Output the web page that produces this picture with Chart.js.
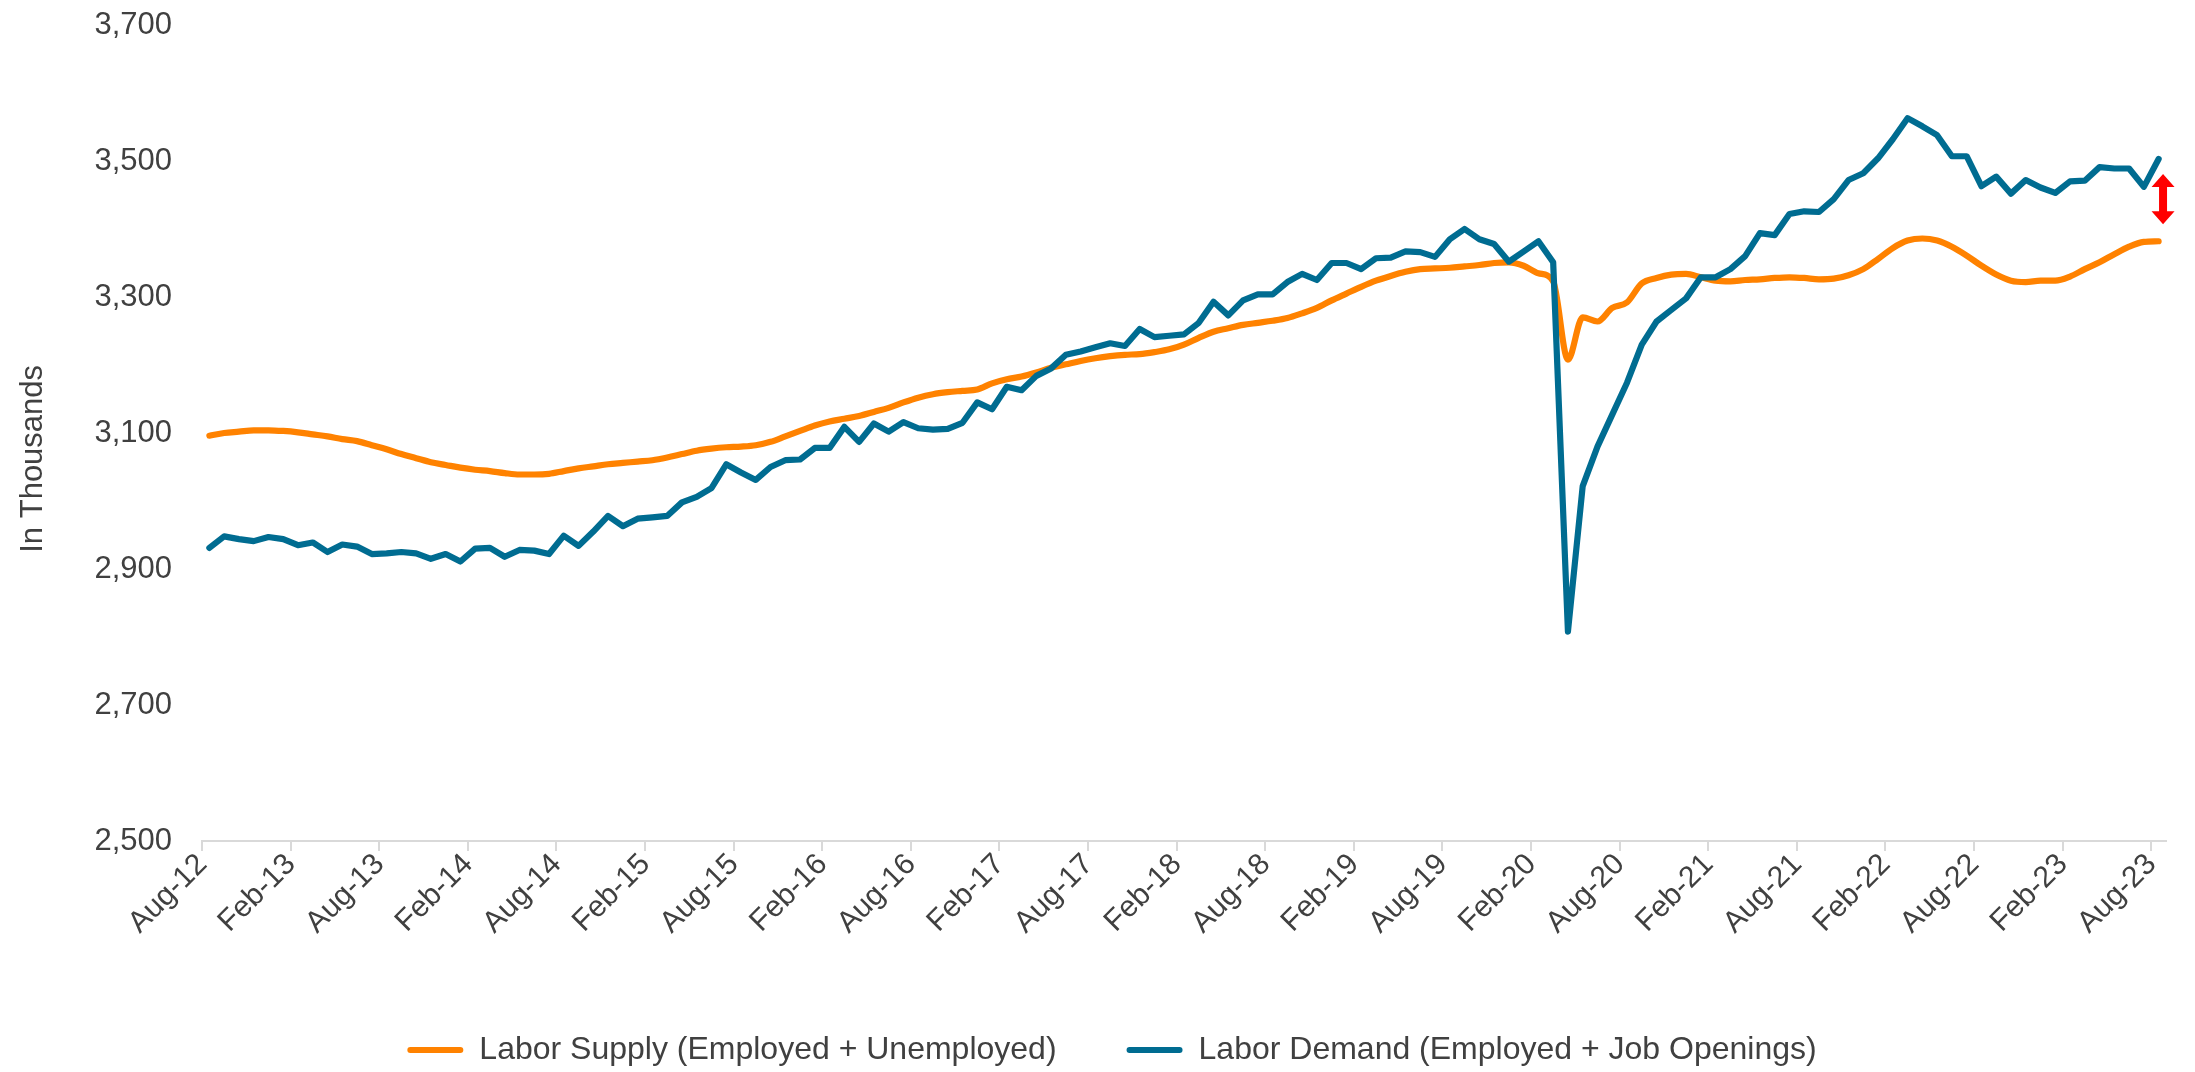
<!DOCTYPE html>
<html>
<head>
<meta charset="utf-8">
<script src="https://cdn.jsdelivr.net/npm/chart.js@4.4.1/dist/chart.umd.min.js"></script>
<style>
    html, body { margin: 0; padding: 0; background: #fff; }
    #wrap { width: 2195px; height: 1072px; position: relative; }
</style>
</head>
<body>
<div id="wrap"><canvas id="grafiek"></canvas></div>
<script>
// ---- DATA ----
const maandNamen = ["Jan", "Feb", "Mar", "Apr", "May", "Jun", "Jul", "Aug", "Sep", "Oct", "Nov", "Dec"];
// Aug-12 t/m Aug-23, one label per month
const categories = [];
for (let i = 0; i < 133; i++) {
    categories.push(maandNamen[(7 + i) % 12] + "-" + (12 + Math.floor((7 + i) / 12)));
}
const tickStep = 6; // label every 6 months: Aug-12, Feb-13, ... Aug-23
const yTicks = { min: 2500, max: 3700, step: 200 };

// Labor Supply (Employed + Unemployed), thousands
const laborSupply = [
    3096, 3100, 3102, 3104, 3104, 3103, 3101, 3098, 3095, 3091, 3088, 3082,
    3076, 3069, 3063, 3057, 3053, 3049, 3046, 3044, 3041, 3039, 3039, 3040,
    3044, 3048, 3051, 3054, 3056, 3058, 3060, 3064, 3069, 3074, 3077, 3079,
    3080, 3082, 3087, 3095, 3103, 3111, 3117, 3121, 3125, 3131, 3137, 3145,
    3152, 3157, 3160, 3162, 3164, 3173, 3179, 3183, 3189, 3196, 3201, 3206,
    3210, 3213, 3215, 3216, 3219, 3223, 3230, 3240, 3249, 3254, 3259, 3262,
    3265, 3269, 3276, 3284, 3295, 3305, 3315, 3324, 3331, 3337, 3341, 3342,
    3343, 3345, 3347, 3350, 3351, 3346, 3335, 3323, 3208, 3270, 3264, 3284,
    3292, 3320, 3328, 3333, 3334, 3329, 3324, 3323, 3325, 3326, 3328, 3329,
    3328, 3326, 3327, 3332, 3341, 3356, 3372, 3383, 3386, 3383, 3374, 3361,
    3346, 3333, 3324, 3322, 3324, 3324, 3330, 3341, 3351, 3363, 3374, 3381,
    3382
];

// Labor Demand (Employed + Job Openings), thousands
const laborDemand = [
    2931, 2948, 2944, 2941, 2947, 2944, 2935, 2939, 2925, 2936, 2933, 2922,
    2923, 2925, 2923, 2915, 2922, 2911, 2930, 2931, 2918, 2928, 2927, 2922,
    2949, 2934, 2955, 2978, 2963, 2974, 2976, 2978, 2998, 3006, 3019, 3054,
    3042, 3031, 3050, 3060, 3061, 3078, 3078, 3109, 3087, 3114, 3102, 3116,
    3107, 3105, 3106, 3115, 3145, 3135, 3168, 3163, 3184, 3195, 3215, 3220,
    3226, 3232, 3228, 3253, 3241, 3243, 3245, 3262, 3293, 3273, 3295, 3304,
    3304, 3322, 3334, 3325, 3350, 3350, 3341, 3357, 3358, 3367, 3366, 3359,
    3385, 3400, 3385, 3378, 3352, 3367, 3382, 3351, 2808, 3022, 3080, 3127,
    3174, 3230, 3264, 3281, 3298, 3329, 3329, 3341, 3360, 3394, 3391, 3422,
    3426, 3425, 3444, 3472, 3482, 3504, 3532, 3563, 3551, 3538, 3507, 3507,
    3463, 3477, 3452, 3472, 3461, 3453, 3470, 3471, 3491, 3489, 3489, 3462,
    3503
];

// red double arrow next to the last month (month index, value range)
const gapArrow = { month: 132.3, top: 3481, bottom: 3407 };

// ---- STIJL ----
const oranje = "#FF8200";
const blauw = "#006C91";
const tekstKleur = "#404040";
const asKleur = "#D9D9D9";
const familie = "'Liberation Sans', Arial, sans-serif";
const lettertype = { family: familie, size: 31 };
const xLettertype = { family: familie, size: 30 };
const legendaLettertype = { family: familie, size: 32 };
const linksMarge = 58; // shifts the legend to the right, like the original

const pijlPlugin = {
    id: "pijl",
    afterDatasetsDraw(chart) {
        const x = chart.scales.x.getPixelForValue(gapArrow.month);
        const yTop = chart.scales.y.getPixelForValue(gapArrow.top);
        const yBot = chart.scales.y.getPixelForValue(gapArrow.bottom);
        const c = chart.ctx;
        const kop = 13, halfKop = 11.5, halfSchacht = 4;
        c.save();
        c.fillStyle = "#FF0000";
        c.beginPath();
        c.moveTo(x, yTop);
        c.lineTo(x + halfKop, yTop + kop);
        c.lineTo(x + halfSchacht, yTop + kop);
        c.lineTo(x + halfSchacht, yBot - kop);
        c.lineTo(x + halfKop, yBot - kop);
        c.lineTo(x, yBot);
        c.lineTo(x - halfKop, yBot - kop);
        c.lineTo(x - halfSchacht, yBot - kop);
        c.lineTo(x - halfSchacht, yTop + kop);
        c.lineTo(x - halfKop, yTop + kop);
        c.closePath();
        c.fill();
        c.restore();
    }
};

const ctx = document.getElementById("grafiek").getContext("2d");
const grafiek = new Chart(ctx, {
    type: "line",
    data: {
        labels: categories,
        datasets: [{
            label: "Labor Supply (Employed + Unemployed)",
            data: laborSupply,
            borderColor: oranje,
            backgroundColor: oranje,
            borderWidth: 6.2,
            pointRadius: 0,
            cubicInterpolationMode: "monotone",
            borderCapStyle: "round",
            borderJoinStyle: "round",
            order: 2
        }, {
            label: "Labor Demand (Employed + Job Openings)",
            data: laborDemand,
            borderColor: blauw,
            backgroundColor: blauw,
            borderWidth: 6.2,
            pointRadius: 0,
            tension: 0,
            borderCapStyle: "round",
            borderJoinStyle: "round",
            order: 1
        }]
    },
    options: {
        responsive: true,
        maintainAspectRatio: false,
        animation: false,
        layout: { padding: { top: 25, right: 29, bottom: -4, left: linksMarge } },
        plugins: {
            tooltip: { enabled: false },
            legend: {
                position: "bottom",
                labels: {
                    color: tekstKleur,
                    font: legendaLettertype,
                    boxWidth: 56,
                    boxHeight: 6,
                    padding: 70,
                    useBorderRadius: true,
                    borderRadius: 3,
                    sort: (a, b) => a.datasetIndex - b.datasetIndex,
                    generateLabels(chart) {
                        const items = Chart.defaults.plugins.legend.labels.generateLabels(chart);
                        items.forEach(it => { it.lineWidth = 0; });
                        return items;
                    }
                }
            }
        },
        scales: {
            x: {
                offset: true,
                afterFit(scale) {
                    scale.height = 123;
                    scale.paddingLeft = 0;
                    scale.paddingRight = 0;
                },
                grid: {
                    display: true,
                    drawOnChartArea: false,
                    drawTicks: true,
                    tickLength: 10,
                    offset: true,
                    lineWidth: 2,
                    color: c => (c.index % tickStep === 0 ? asKleur : "rgba(0,0,0,0)")
                },
                border: { display: true, color: asKleur, width: 2 },
                ticks: {
                    autoSkip: false,
                    minRotation: 45,
                    maxRotation: 45,
                    padding: -4,
                    labelOffset: -7,
                    color: tekstKleur,
                    font: xLettertype,
                    callback: (v, i) => (i % tickStep === 0 ? categories[i] : "")
                }
            },
            y: {
                min: yTicks.min,
                max: yTicks.max,
                afterFit(scale) {
                    scale.width = 202 - linksMarge;
                    scale.paddingTop = 0;
                    scale.paddingBottom = 0;
                },
                grid: { display: false, drawTicks: false },
                border: { display: false },
                ticks: {
                    stepSize: yTicks.step,
                    padding: 30,
                    color: tekstKleur,
                    font: lettertype
                },
                title: {
                    display: true,
                    // trailing spaces nudge the title a bit lower, like the original
                    text: "In Thousands      ",
                    color: tekstKleur,
                    font: lettertype,
                    padding: { top: 15 - linksMarge, bottom: 0 }
                }
            }
        }
    },
    plugins: [pijlPlugin]
});
</script>
</body>
</html>
